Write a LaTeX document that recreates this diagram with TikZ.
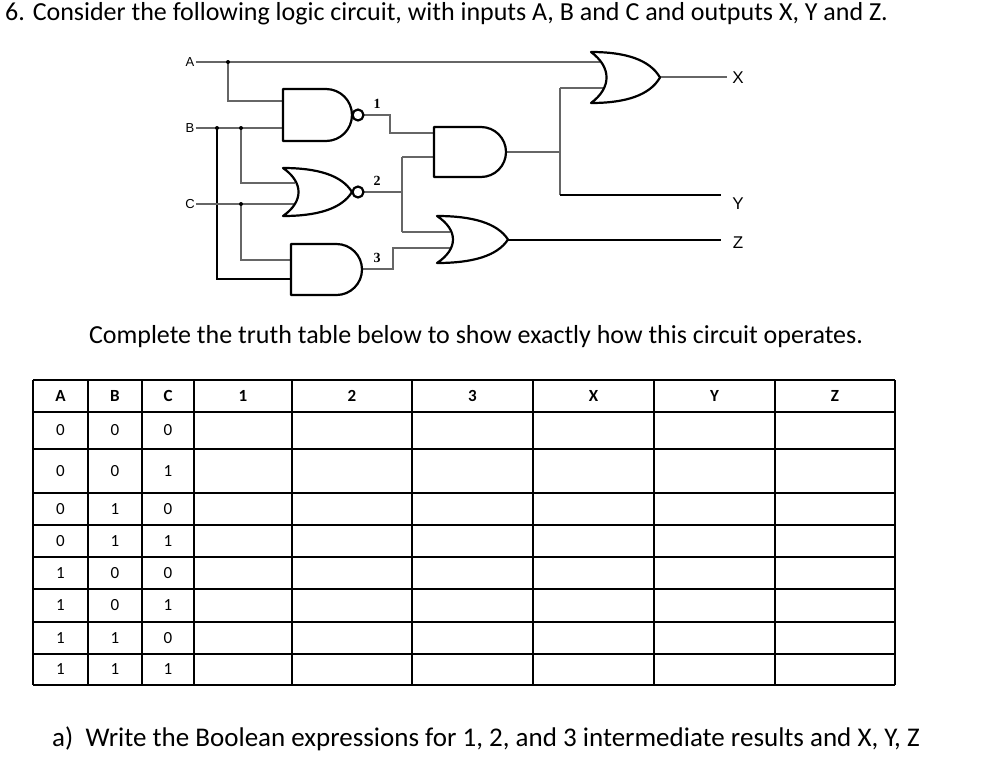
\documentclass[tikz,border=0pt]{standalone}
\usepackage{fontspec}
\setmainfont{Carlito}
\newfontfamily\lsans{Liberation Sans}
\newfontfamily\lserif{Liberation Serif}
\newcommand\andgate[4]{\draw[gate] (#1,#2) -- ({#3-(#4-#2)/2},#2) arc[start angle=-90,end angle=90,radius={(#4-#2)/2}] -- (#1,#4) -- cycle;}
\newcommand\orgate[4]{\draw[gate] (#1,#2) .. controls ({#1+0.5*(#3-#1)},#2) and ({#1+0.85*(#3-#1)},{#2+0.15*(#4-#2)}) .. (#3,{(#2+#4)/2}) .. controls ({#1+0.85*(#3-#1)},{#4-0.15*(#4-#2)}) and ({#1+0.5*(#3-#1)},#4) .. (#1,#4) .. controls ({#1+0.3*(#3-#1)},{#4-0.3*(#4-#2)}) and ({#1+0.3*(#3-#1)},{#2+0.3*(#4-#2)}) .. (#1,#2) -- cycle;}
\begin{document}
\begin{tikzpicture}[x=1pt,y=-1pt,
  gate/.style={draw=black,fill=white,line width=2.2pt,line join=round},
  wire/.style={draw=black!60,line width=1.1pt},
  bwire/.style={draw=black,line width=1.3pt},
  dot/.style={circle,fill=black,inner sep=0pt,minimum size=4pt},
  lab/.style={font=\lsans\fontsize{13}{14}\selectfont,inner sep=1pt},
  olab/.style={font=\lsans\fontsize{17}{18}\selectfont,inner sep=1pt},
  num/.style={font=\lserif\bfseries\fontsize{14}{15}\selectfont,inner sep=1pt},
  grid/.style={draw=black,line width=1.4pt},
  hd/.style={font=\bfseries\fontsize{17}{19}\selectfont},
  cell/.style={font=\fontsize{17}{19}\selectfont}]
\useasboundingbox (0,0) rectangle (995,766);
\node[anchor=west,font=\fontsize{26}{30}\selectfont,inner sep=0pt] (title) at (5,14) {6. Consider the following logic circuit, with inputs A, B and C and outputs X, Y and Z.};
% labels
\node[lab] (lA) at (190,62) {A};
\node[lab] (lB) at (190,128) {B};
\node[lab] (lC) at (190,204) {C};
\coordinate (dA) at (228,62);
\coordinate (dB1) at (217,128);
\coordinate (dB2) at (241,128);
\coordinate (dC) at (241,204);
% wires
\draw[wire] (lA.east) -- (600,62);
\draw[wire] (dA) -- (228,101) -- (290,101);
\draw[wire] (lB.east) -- (290,128);
\draw[wire] (dB2) -- (241,183) -- (295,183);
\draw[bwire] (dB1) -- (217,279) -- (295,279);
\draw[wire] (lC.east) -- (295,204);
\draw[wire] (dC) -- (241,260) -- (295,260);
\draw[wire] (364,115) -- (390,115) -- (390,133) -- (440,133);
\draw[wire] (364,192) -- (402,192);
\draw[wire] (402,157) -- (402,232);
\draw[wire] (402,157) -- (440,157);
\draw[wire] (402,232) -- (450,232);
\draw[wire] (362,269) -- (393,269) -- (393,248) -- (450,248);
\draw[wire] (506,152) -- (560,152);
\draw[wire] (560,88) -- (560,195);
\draw[wire] (560,88) -- (605,88);
\draw[bwire] (560,195) -- (721,195);
\draw[bwire] (508,240) -- (721,240);
\draw[wire] (660,77) -- (727,77);
% gates
\andgate{283}{89}{352}{141}
\draw[gate] (358,115) circle[radius=5.5];
\orgate{283}{168}{352}{216}
\draw[gate] (358,192) circle[radius=5.5];
\andgate{291}{244}{362}{295}
\andgate{434}{127}{506}{177}
\orgate{437}{216}{508}{263}
\orgate{591}{52}{660}{103}
\foreach \p in {dA,dB1,dB2,dC} \node[dot] at (\p) {};
\node[num] (n1) at (377,104) {1};
\node[num] (n2) at (377,181) {2};
\node[num] (n3) at (377,258) {3};
\node[olab] (lX) at (738,78) {X};
\node[olab] (lY) at (738,204) {Y};
\node[olab] (lZ) at (738,243) {Z};
\node[font=\fontsize{26}{30}\selectfont,inner sep=0pt] (mid) at (476,337) {Complete the truth table below to show exactly how this circuit operates.};
% table
\def\xs{33,88,142,194,292,412,533,654,775,895}
\def\ys{380,412,449,493,525,557,589,622,654,685}
\foreach \x in \xs \draw[grid] (\x,380) -- (\x,685);
\foreach \y in \ys \draw[grid] (33,\y) -- (895,\y);
\foreach \t/\x in {A/60.5,B/115,C/168,1/243,2/352,3/472.5,X/593.5,Y/714.5,Z/835}
  \node[hd] at (\x,396) {\t};
\foreach \a/\b/\c/\ya/\yb in {0/0/0/412/449,0/0/1/449/493,0/1/0/493/525,0/1/1/525/557,1/0/0/557/589,1/0/1/589/622,1/1/0/622/654,1/1/1/654/685}{
  \node[cell] at (60.5,{(\ya+\yb)/2}) {\a};
  \node[cell] at (115,{(\ya+\yb)/2}) {\b};
  \node[cell] at (168,{(\ya+\yb)/2}) {\c};
}
\node[anchor=west,font=\fontsize{27}{30}\selectfont,inner sep=0pt] (qa) at (52,739) {a)\ \ Write the Boolean expressions for 1, 2, and 3 intermediate results and X, Y, Z};
\end{tikzpicture}
\end{document}
